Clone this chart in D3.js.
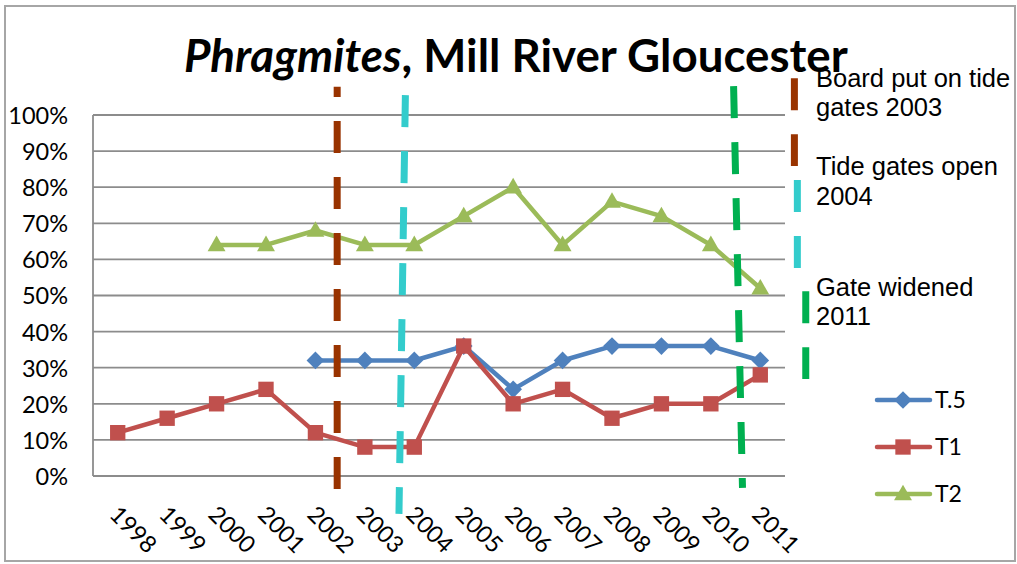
<!DOCTYPE html>
<html>
<head>
<meta charset="utf-8">
<script src="https://cdn.jsdelivr.net/npm/d3@7"></script>
<style>
  body { margin: 0; background: #fff; }
  svg { display: block; }
</style>
</head>
<body>
<svg id="chart" width="1017" height="564"></svg>
<script>
// Survey years (category axis)
const years = [1998, 1999, 2000, 2001, 2002, 2003, 2004, 2005, 2006, 2007, 2008, 2009, 2010, 2011];

// Phragmites cover (%) per transect, null where not surveyed
const seriesNames = ["T.5", "T1", "T2"];
const t05 = [null, null, null, null, 32, 32, 32, 36, 24, 32, 36, 36, 36, 32];
const t1  = [12, 16, 20, 24, 12, 8, 8, 36, 20, 24, 16, 20, 20, 28];
const t2  = [null, null, 64, 64, 68, 64, 64, 72, 80, 64, 76, 72, 64, 52];

// Value axis ticks (%)
const yTicks = [0, 10, 20, 30, 40, 50, 60, 70, 80, 90, 100];

// Management events: note text, and the dashed marker line given in
// (year, percent) units at its top and bottom ends
const eventNotes = [
  ["Board put on tide", "gates 2003"],
  ["Tide gates open", "2004"],
  ["Gate widened", "2011"]
];
const eventTopYear    = [2002.44, 2003.82, 2010.46];
const eventBottomYear = [2002.44, 2003.69, 2010.64];
const eventTopPct     = [107.8, 105.5, 108.0];
const eventBottomPct  = [-3.6, -10.5, -3.3];
// short key dashes next to each note
const keyYear   = [2011.69, 2011.75, 2011.92];
const keyTopPct = [110.2, 82.0, 51.2];
const keyBotPct = [85.9, 57.6, 26.9];

const svg = d3.select("#chart");

const colors = { "T.5": "#4F81BD", "T1": "#C0504D", "T2": "#9BBB59" };
const eventColors = ["#993300", "#33CCCC", "#00B050"];
const gridColor = "#8C8C8C";
const fontMain = "Lato, 'Open Sans', sans-serif";
const fontNote = "'Liberation Sans', Arial, sans-serif";

const plot = { left: 93, right: 785, top: 115, bottom: 476 };

const x = d3.scaleLinear().domain([1997.5, 2011.5]).range([plot.left, plot.right]);
const y = d3.scaleLinear().domain([0, 100]).range([plot.bottom, plot.top]);

// chart frame
svg.append("rect")
  .attr("x", 5).attr("y", 6).attr("width", 1010).attr("height", 555)
  .attr("fill", "#fff").attr("stroke", "#A6A6A6").attr("stroke-width", 2);

// horizontal gridlines
svg.append("g").selectAll("line").data(yTicks).join("line")
  .attr("x1", plot.left).attr("x2", plot.right)
  .attr("y1", d => y(d)).attr("y2", d => y(d))
  .attr("stroke", gridColor).attr("stroke-width", 1.8);

// vertical axis line
svg.append("line")
  .attr("x1", plot.left).attr("x2", plot.left)
  .attr("y1", plot.top).attr("y2", plot.bottom)
  .attr("stroke", gridColor).attr("stroke-width", 1.8);

// value axis labels
const yAxis = d3.axisLeft(y).tickValues(yTicks).tickFormat(d => d + "%").tickSize(0).tickPadding(25);
const gy = svg.append("g").attr("transform", `translate(${plot.left},0)`).call(yAxis);
gy.select(".domain").remove();
gy.selectAll("text")
  .attr("font-family", fontMain).attr("font-size", 23.5).attr("fill", "#000")
  .attr("dy", "0.36em");

// category axis labels, rotated 45°
const xAxis = d3.axisBottom(x).tickValues(years).tickFormat(d3.format("d")).tickSize(0);
const gx = svg.append("g").attr("transform", `translate(0,${plot.bottom})`).call(xAxis);
gx.select(".domain").remove();
gx.selectAll("text")
  .attr("font-family", fontMain).attr("font-size", 23.5).attr("fill", "#000")
  .attr("text-anchor", "start")
  .attr("dy", null).attr("y", 0)
  .attr("transform", "translate(-10,40) rotate(45)");

// series lines and markers
const seriesData = [t05, t1, t2];
const line = d3.line()
  .defined(d => d.v != null)
  .x(d => x(d.year)).y(d => y(d.v));

const markerPath = {
  "T.5": d3.symbol(d3.symbolDiamond2, 200)(),
  "T1": d3.symbol(d3.symbolSquare2, 300)(),
  "T2": d3.symbol(d3.symbolTriangle2, 230)()
};

seriesNames.forEach((name, i) => {
  const pts = years.map((yr, j) => ({ year: yr, v: seriesData[i][j] }));
  const g = svg.append("g");
  g.append("path").datum(pts)
    .attr("d", line)
    .attr("fill", "none")
    .attr("stroke", colors[name])
    .attr("stroke-width", 4.5)
    .attr("stroke-linejoin", "round");
  g.selectAll("path.m").data(pts.filter(p => p.v != null)).join("path")
    .attr("class", "m")
    .attr("d", markerPath[name])
    .attr("transform", d => `translate(${x(d.year)},${y(d.v)})` + (name === "T2" ? " translate(0,1)" : ""))
    .attr("fill", colors[name]);
});

// title
const title = svg.append("text")
  .attr("x", 184).attr("y", 72)
  .attr("font-family", fontMain).attr("font-weight", 700)
  .attr("font-size", 40).attr("fill", "#000");
title.append("tspan").attr("font-style", "italic").text("Phragmites");
title.append("tspan").text(", Mill River Gloucester");
const tw = title.node().getComputedTextLength();
title.attr("font-size", 40 * 664 / tw);

// dashed event lines across the plot
eventColors.forEach((c, i) => {
  const fromTop = i !== 0;
  const a = { x: x(eventTopYear[i]), y: y(eventTopPct[i]) };
  const b = { x: x(eventBottomYear[i]), y: y(eventBottomPct[i]) };
  const [p, q] = fromTop ? [a, b] : [b, a];
  svg.append("line")
    .attr("x1", p.x).attr("y1", p.y).attr("x2", q.x).attr("y2", q.y)
    .attr("stroke", c).attr("stroke-width", 7)
    .attr("stroke-dasharray", "32 24");
});

// notes with key dashes
eventColors.forEach((c, i) => {
  svg.append("line")
    .attr("x1", x(keyYear[i])).attr("x2", x(keyYear[i]))
    .attr("y1", y(keyTopPct[i])).attr("y2", y(keyBotPct[i]))
    .attr("stroke", c).attr("stroke-width", 7)
    .attr("stroke-dasharray", "32 24");
});
const noteBaselines = [86.5, 175, 295.5];
eventNotes.forEach((lines, i) => {
  const t = svg.append("text")
    .attr("x", 816).attr("y", noteBaselines[i])
    .attr("font-family", fontNote).attr("font-size", 25.5).attr("fill", "#000");
  lines.forEach((s, k) => {
    t.append("tspan").attr("x", 816).attr("dy", k === 0 ? 0 : 29.5).text(s);
  });
});

// legend
const legendY = [400, 447, 494];
seriesNames.forEach((name, i) => {
  const g = svg.append("g").attr("transform", `translate(0,${legendY[i]})`);
  g.append("line").attr("x1", 877).attr("x2", 930).attr("y1", 0).attr("y2", 0)
    .attr("stroke", colors[name]).attr("stroke-width", 4.5).attr("stroke-linecap", "round");
  g.append("path").attr("d", markerPath[name])
    .attr("transform", `translate(903,${name === "T2" ? 1 : 0})`)
    .attr("fill", colors[name]);
  g.append("text").attr("x", 935).attr("y", 8)
    .attr("font-family", fontMain).attr("font-size", 23).attr("fill", "#000")
    .text(name);
});
</script>
</body>
</html>
